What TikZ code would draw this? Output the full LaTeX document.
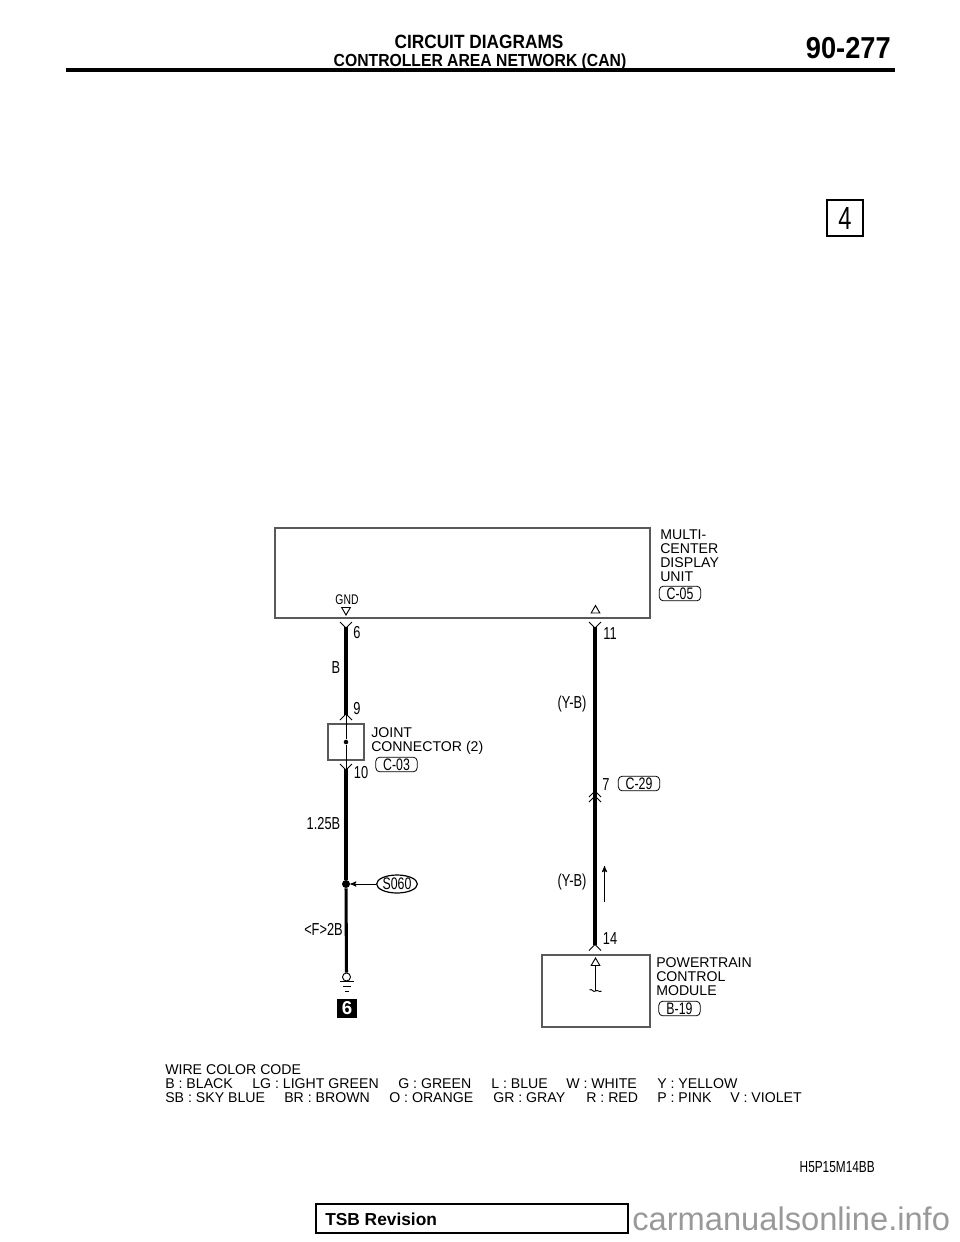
\documentclass[tikz,border=0pt]{standalone}
\usepackage{fontspec}
\setmainfont{Liberation Sans}
\newfontfamily\narrowfont[FakeStretch=0.74]{Liberation Sans}
\newfontfamily\headfont[FakeStretch=0.9]{Liberation Sans}
\usetikzlibrary{arrows, positioning, calc, shapes.geometric}
\tikzset{
x=0.75pt, y=-0.75pt, % one unit is one pixel of the page
>=stealth',
wire/.style={line width=2.3pt}, % the heavy wires
thin wire/.style={line width=0.7pt},
box/.style={draw=black!65, line width=0.8pt},
name text/.style={align=left, anchor=north west, inner sep=0pt, font=\fontsize{10.6}{10.5}\selectfont},
pin text/.style={inner sep=0pt, font=\narrowfont\fontsize{13}{13}\selectfont},
tag/.style={draw, rounded corners=3pt, line width=0.6pt, inner sep=0pt, minimum width=31pt, minimum height=11pt, font=\narrowfont\fontsize{12.5}{12.5}\selectfont},
code text/.style={anchor=west, inner sep=0pt, font=\fontsize{10.6}{11}\selectfont},
plugdown/.pic={\draw[thin wire] (-6,-5) -- (0,1) -- (6,-5);},
plugup/.pic={\draw[thin wire] (-6,5) -- (0,-1) -- (6,5);},
pinarrow/.style={draw, regular polygon, regular polygon sides=3, minimum size=7.5pt, inner sep=0pt, line width=0.7pt},
}
\begin{document}
\begin{tikzpicture}
    \useasboundingbox (0,0) rectangle (960,1242);
    % header
    \node[inner sep=0pt, font=\headfont\bfseries\fontsize{14.4}{15}\selectfont] (title) at (479,42) {CIRCUIT DIAGRAMS};
    \node[inner sep=0pt, font=\headfont\bfseries\fontsize{13.1}{13}\selectfont] (subtitle) at (480,62) {CONTROLLER AREA NETWORK (CAN)};
    \node[inner sep=0pt, anchor=east, font=\headfont\bfseries\fontsize{22.7}{23}\selectfont] (page) at (891,48) {90-277};
    \coordinate (ruleL) at (66,70);
    \coordinate (ruleR) at (895,70);
    \draw[line width=3pt] (ruleL) -- (ruleR);
    \node[draw, line width=0.9pt, minimum size=27pt, inner sep=0pt, font=\narrowfont\fontsize{24}{24}\selectfont] (sheet) at (845,218) {4};

    % display unit
    \node[box, minimum width=281.25pt, minimum height=67.5pt, inner sep=0pt] (mcdu) at (462.5,573) {};
    \node[name text] (mcduname) at (660,530) {MULTI-\\CENTER\\DISPLAY\\UNIT};
    \node[tag] (c05) at (680,593.5) {C-05};
    \node[pin text, font=\narrowfont\fontsize{10.5}{10.5}\selectfont] (gnd) at (347,600) {GND};
    \node[pinarrow, shape border rotate=180] (gndpin) at (346,610) {};
    \node[pinarrow] (canpin) at (595.5,610.5) {};

    % left wire
    \coordinate (p6) at (346,627);
    \coordinate (p9) at (346,715);
    \coordinate (p10) at (346,769);
    \pic at (346,627) {plugdown};
    \pic at (346,715) {plugup};
    \pic at (346,769) {plugdown};
    \node[pin text] (n6) at (357,633) {6};
    \node[pin text] (n9) at (357,709) {9};
    \node[pin text] (n10) at (361,773) {10};
    \node[pin text] (colB) at (336,668) {B};
    \draw[wire] (p6) -- (p9);

    % joint connector
    \node[box, minimum size=27pt, inner sep=0pt] (joint) at (346,742) {};
    \node[circle, fill, inner sep=0pt, minimum size=3.4pt] (jointdot) at (346,742) {};
    \draw[thin wire] (p9) -- (jointdot);
    \draw[thin wire] (jointdot) -- (p10);
    \node[name text] (jointname) at (371,727) {JOINT\\CONNECTOR (2)};
    \node[tag] (c03) at (396.5,764.5) {C-03};

    % junction and ground
    \node[circle, fill, inner sep=0pt, minimum size=6pt] (s060dot) at (346,884) {};
    \node[draw, ellipse, line width=0.9pt, inner sep=0pt, minimum width=30pt, minimum height=13.5pt, font=\narrowfont\fontsize{12.5}{12.5}\selectfont] (s060) at (397,884) {S060};
    \draw[->, thin wire] (s060) -- (s060dot);
    \node[circle, draw, line width=0.7pt, inner sep=0pt, minimum size=6pt] (gndring) at (346.5,977) {};
    \draw[wire] (p10) -- (s060dot);
    \draw[wire] (s060dot) -- (gndring);
    \draw[thin wire] (339.5,981) -- (354,981) (343,986) -- (350.5,986) (345,991) -- (348.5,991);
    \node[pin text] (col125) at (323.5,824) {1.25B};
    \node[pin text] (colF2) at (323.5,929) {<F>2B};
    \node[fill=black, text=white, minimum size=14.5pt, inner sep=0pt, font=\bfseries\fontsize{14}{14}\selectfont] (six) at (347,1008.5) {6};

    % right wire
    \coordinate (p11) at (595,627);
    \coordinate (p14) at (595,945);
    \pic at (595,627) {plugdown};
    \pic at (595,792) {plugup};
    \pic at (595,797) {plugup};
    \pic at (595,945.5) {plugup};
    \draw[wire] (p11) -- (p14);
    \node[pin text] (n11) at (610,634) {11};
    \node[pin text] (n7) at (606,785) {7};
    \node[pin text] (n14) at (610,939) {14};
    \node[pin text] (colYB1) at (572,704) {(Y-B)};
    \node[pin text] (colYB2) at (572,882) {(Y-B)};
    \node[tag] (c29) at (639,783.5) {C-29};
    \coordinate (flowS) at (604.5,902);
    \coordinate (flowE) at (604.5,866);
    \draw[->, thin wire] (flowS) -- (flowE);

    % powertrain module
    \node[box, minimum width=81pt, minimum height=54pt, inner sep=0pt] (pcm) at (596,991) {};
    \node[pinarrow] (pcmpin) at (595.5,963) {};
    \coordinate (pcmend) at (595.5,991);
    \draw[thin wire] (pcmpin) -- (pcmend);
    \draw[thin wire] (589.5,990) .. controls (592,988) and (593,993) .. (595.5,991) .. controls (598,989) and (599,993) .. (601.5,991);
    \node[name text] (pcmname) at (656,957) {POWERTRAIN\\CONTROL\\MODULE};
    \node[tag] (b19) at (679.5,1008.5) {B-19};

    % colour code
    \node[code text] (codehead) at (165,1070) {WIRE COLOR CODE};
    \foreach \x/\t in {165/B : BLACK, 252/LG : LIGHT GREEN, 398/G : GREEN, 491/L : BLUE, 566/W : WHITE, 657/Y : YELLOW}
        \node[code text] at (\x,1084) {\t};
    \foreach \x/\t in {165/SB : SKY BLUE, 284/BR : BROWN, 389/O : ORANGE, 493/GR : GRAY, 586/R : RED, 657/P : PINK, 730/V : VIOLET}
        \node[code text] at (\x,1098) {\t};

    % footer
    \node[inner sep=0pt, anchor=east, font=\narrowfont\fontsize{12}{12}\selectfont] (figno) at (875,1167) {H5P15M14BB};
    \node[draw, line width=1.1pt, minimum width=234pt, minimum height=22pt, inner sep=0pt] (tsb) at (472,1218.5) {};
    \node[inner sep=0pt, anchor=west, font=\bfseries\fontsize{13}{14}\selectfont] (tsbtext) at (325,1219) {TSB Revision};
    \node[inner sep=0pt, anchor=west, text=black!40, font=\fontsize{24.5}{25}\selectfont] (mark) at (632,1219) {carmanualsonline.info};
\end{tikzpicture}
\end{document}
